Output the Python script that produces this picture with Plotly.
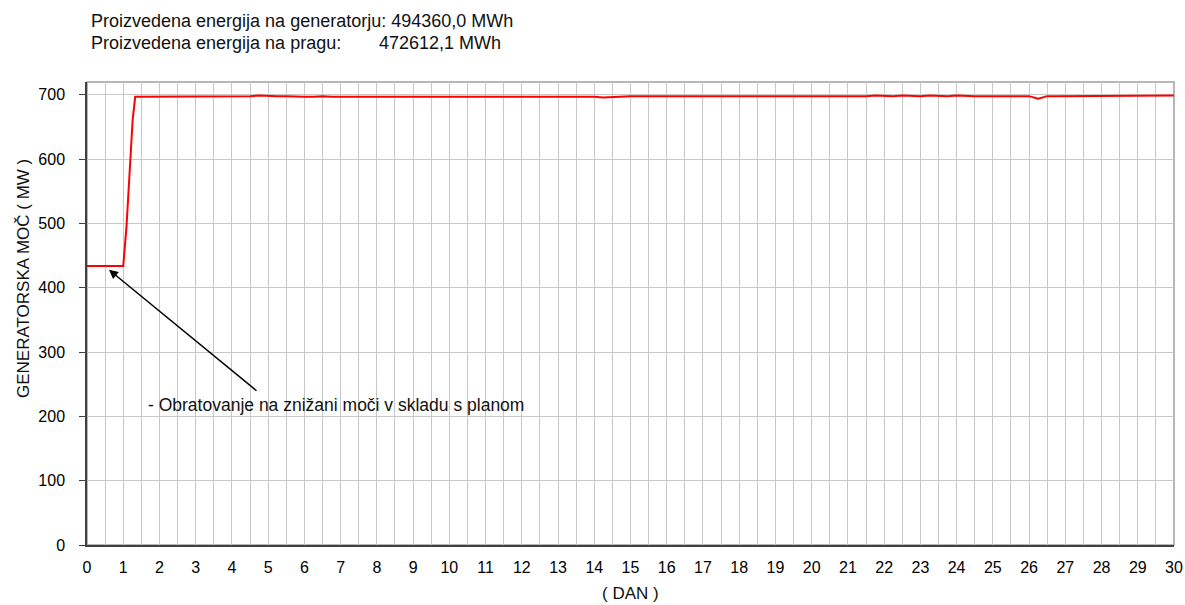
import plotly.graph_objects as go

# ---- data ----
ramp_days = [0.0, 0.25, 0.5, 0.6, 0.75, 1.0, 1.09, 1.19, 1.26, 1.33]
ramp_mw = [434, 434, 433, 433, 434, 434, 495, 594, 661, 697]

flat_days = [
    1.5, 1.75, 2.0, 2.25, 2.5, 2.75, 3.0, 3.25,
    3.5, 3.75, 4.0, 4.25, 4.5, 4.75, 5.0, 5.25,
    5.5, 5.75, 6.0, 6.25, 6.5, 6.75, 7.0, 7.25,
    7.5, 7.75, 8.0, 8.25, 8.5, 8.75, 9.0, 9.25,
    9.5, 9.75, 10.0, 10.25, 10.5, 10.75, 11.0, 11.25,
    11.5, 11.75, 12.0, 12.25, 12.5, 12.75, 13.0, 13.25,
    13.5, 13.75, 14.0, 14.25, 14.5, 14.75, 15.0, 15.25,
    15.5, 15.75, 16.0, 16.25, 16.5, 16.75, 17.0, 17.25,
    17.5, 17.75, 18.0, 18.25, 18.5, 18.75, 19.0, 19.25,
    19.5, 19.75, 20.0, 20.25, 20.5, 20.75, 21.0, 21.25,
    21.5, 21.75, 22.0, 22.25, 22.5, 22.75, 23.0, 23.25,
    23.5, 23.75, 24.0, 24.25, 24.5, 24.75, 25.0, 25.25,
    25.5, 25.75, 26.0, 26.25, 26.5, 26.75, 27.0, 27.25,
    27.5, 27.75, 28.0, 28.25, 28.5, 28.75, 29.0, 29.25,
    29.5, 29.75, 30.0,
]
flat_mw = [
    697, 698, 697, 698, 697, 698, 698, 698,
    698, 698, 698, 698, 698, 699, 698, 698,
    698, 697, 697, 697, 698, 697, 697, 697,
    698, 697, 698, 697, 698, 697, 697, 698,
    697, 697, 697, 698, 697, 697, 697, 698,
    698, 697, 698, 697, 698, 697, 698, 697,
    698, 697, 697, 696, 697, 698, 698, 698,
    698, 697, 698, 698, 697, 698, 698, 698,
    698, 697, 698, 698, 697, 698, 698, 697,
    698, 698, 698, 698, 698, 698, 697, 698,
    698, 699, 698, 698, 699, 698, 698, 699,
    698, 698, 699, 698, 698, 698, 698, 698,
    698, 698, 698, 694, 698, 698, 698, 698,
    698, 699, 698, 698, 698, 698, 699, 698,
    698, 698, 699,
]

days = ramp_days + flat_days
power = ramp_mw + flat_mw

x_ticks = list(range(0, 31))
y_ticks = [0, 100, 200, 300, 400, 500, 600, 700]

header_1 = "Proizvedena energija na generatorju: 494360,0 MWh"
header_2a = "Proizvedena energija na pragu:"
header_2b = "472612,1 MWh"
note_text = "- Obratovanje na znižani moči v skladu s planom"
y_title = "GENERATORSKA MOČ ( MW )"
x_title = "( DAN )"

FONT = "Liberation Sans, Arial, sans-serif"

# plot area in pixels
L, R, T, B = 87, 1174, 82, 545
W, H = 1185, 605


def px(xp):
    return (xp - L) / (R - L)


def py(yp):
    return (B - yp) / (B - T)


fig = go.Figure()
fig.add_trace(go.Scatter(
    x=days, y=power, mode="lines",
    line=dict(color="#ff0000", width=2),
    hoverinfo="skip", showlegend=False,
))

grid = "#c8c8c8"
fig.update_layout(
    width=W, height=H,
    margin=dict(l=L, r=W - R, t=T, b=H - B, pad=0, autoexpand=False),
    paper_bgcolor="white", plot_bgcolor="white",
    font=dict(family=FONT, size=16, color="black"),
    showlegend=False,
    xaxis=dict(
        range=[0, 30], tickvals=x_ticks, ticktext=[str(v) for v in x_ticks],
        showgrid=True, gridcolor=grid, gridwidth=1,
        minor=dict(dtick=0.5, tick0=0, showgrid=True, gridcolor=grid, gridwidth=1),
        showline=True, linecolor="#404040", linewidth=1.5,
        ticks="", zeroline=False, ticklabelstandoff=7, automargin=False,
        tickfont=dict(size=16, family=FONT, color="black"),
    ),
    yaxis=dict(
        range=[0, 720], tickvals=y_ticks,
        showgrid=True, gridcolor=grid, gridwidth=1,
        showline=True, linecolor="#404040", linewidth=1.5,
        ticks="outside", ticklen=6, tickcolor="#404040", tickwidth=1,
        zeroline=False, ticklabelstandoff=11, automargin=False,
        tickfont=dict(size=16, family=FONT, color="black"),
    ),
    shapes=[dict(
        type="rect", xref="paper", yref="paper", x0=0, x1=1, y0=0, y1=1,
        line=dict(color="#a0a0a0", width=1.5), layer="between",
    )],
)

ann = [
    dict(text=header_1, x=px(89), y=py(21), xref="paper", yref="paper",
         xanchor="left", yanchor="middle", showarrow=False,
         font=dict(size=18, family=FONT, color="#111")),
    dict(text=header_2a, x=px(89), y=py(43), xref="paper", yref="paper",
         xanchor="left", yanchor="middle", showarrow=False,
         font=dict(size=18, family=FONT, color="#111")),
    dict(text=header_2b, x=px(377), y=py(43), xref="paper", yref="paper",
         xanchor="left", yanchor="middle", showarrow=False,
         font=dict(size=18, family=FONT, color="#111")),
    dict(text=y_title, x=px(23), y=py(279), xref="paper", yref="paper",
         xanchor="center", yanchor="middle", textangle=-90, showarrow=False,
         font=dict(size=17, family=FONT, color="#111")),
    dict(text=x_title, x=px(630), y=py(593), xref="paper", yref="paper",
         xanchor="center", yanchor="middle", showarrow=False,
         font=dict(size=17, family=FONT, color="#111")),
    dict(text=note_text, x=1.63, y=218, xref="x", yref="y",
         xanchor="left", yanchor="middle", showarrow=False,
         font=dict(size=17.5, family=FONT, color="#111")),
    dict(text="", x=0.607, y=428, xref="x", yref="y",
         ax=4.72, ay=238, axref="x", ayref="y",
         showarrow=True, arrowhead=2, arrowsize=1.2, arrowwidth=1.5,
         arrowcolor="black"),
]
fig.update_layout(annotations=ann)

fig.write_html("out.html", config={"displayModeBar": False},
               post_script="document.body.style.margin='0';")
